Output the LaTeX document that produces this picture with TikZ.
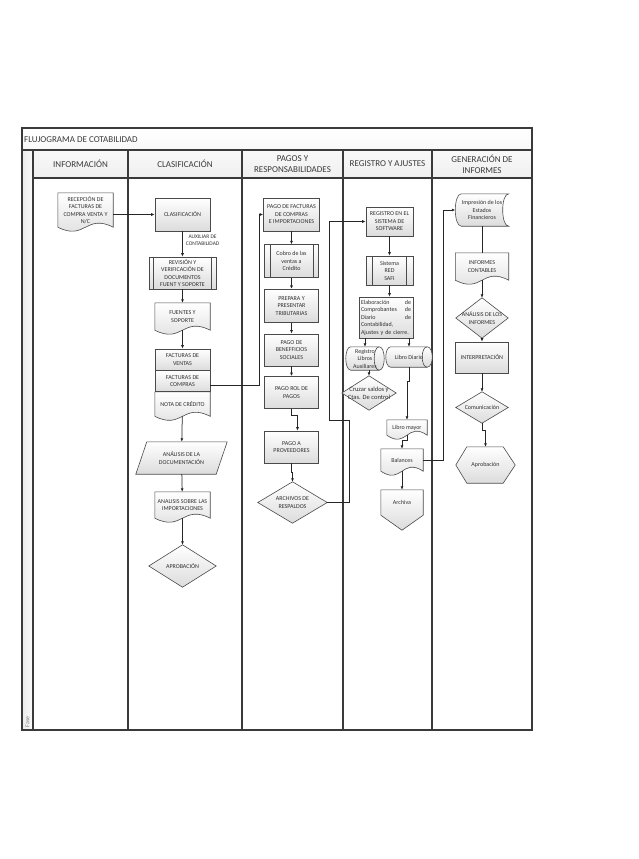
\documentclass[tikz,border=0pt]{standalone}
\usepackage{fontspec}
\setmainfont{Carlito}
\usetikzlibrary{positioning, arrows.meta}

\definecolor{laneline}{HTML}{3A3A3A}
\definecolor{shapeline}{HTML}{4A4A4A}
\definecolor{boxgray}{HTML}{DCDCDC}
\definecolor{txtgray}{HTML}{303030}

\pgfdeclarelayer{lanes}
\pgfdeclarelayer{shapes}
\pgfsetlayers{lanes,shapes,main}

\newcommand{\flowfont}{\fontsize{6}{7.5}\selectfont}
\newcommand{\headfont}{\fontsize{9}{11}\selectfont}

% outlines behind the node texts
\newcommand{\docshape}[1]{\begin{pgfonlayer}{shapes}
  \path[shapeout] (#1.north west) -- (#1.north east) -- (#1.south east)
    .. controls ([yshift=14pt]#1.south) and ([yshift=-14pt]#1.south) .. (#1.south west) -- cycle;
  \end{pgfonlayer}}
\newcommand{\diashape}[1]{\begin{pgfonlayer}{shapes}
  \path[shapeout] (#1.north) -- (#1.east) -- (#1.south) -- (#1.west) -- cycle;
  \end{pgfonlayer}}
\newcommand{\parashape}[1]{\begin{pgfonlayer}{shapes}
  \path[shapeout] ([xshift=11pt]#1.north west) -- (#1.north east) -- ([xshift=-11pt]#1.south east) -- (#1.south west) -- cycle;
  \end{pgfonlayer}}
\newcommand{\hexshape}[1]{\begin{pgfonlayer}{shapes}
  \path[shapeout] (#1.west) -- ([xshift=11pt]#1.north west) -- ([xshift=-12pt]#1.north east) -- (#1.east)
    -- ([xshift=-12pt]#1.south east) -- ([xshift=11pt]#1.south west) -- cycle;
  \end{pgfonlayer}}
\newcommand{\offpage}[1]{\begin{pgfonlayer}{shapes}
  \path[shapeout] (#1.north west) -- (#1.north east) -- (#1.south east) -- ([yshift=-15pt]#1.south) -- (#1.south west) -- cycle;
  \end{pgfonlayer}}
\newcommand{\drumshape}[1]{\begin{pgfonlayer}{shapes}
  \path[shapeout] ([xshift=5pt]#1.north west) -- ([xshift=-5pt]#1.north east)
    .. controls ([xshift=1.7pt]#1.north east) and ([xshift=1.7pt]#1.south east) .. ([xshift=-5pt]#1.south east)
    -- ([xshift=5pt]#1.south west)
    .. controls ([xshift=-1.7pt]#1.south west) and ([xshift=-1.7pt]#1.north west) .. cycle;
  \draw[draw=shapeline, line width=0.6pt] ([xshift=-5pt]#1.north east)
    .. controls ([xshift=-11.7pt]#1.north east) and ([xshift=-11.7pt]#1.south east) .. ([xshift=-5pt]#1.south east);
  \end{pgfonlayer}}
\newcommand{\storeshape}[1]{\begin{pgfonlayer}{shapes}
  \path[shapeout] ([xshift=6pt]#1.north west) -- (#1.north east)
    .. controls ([xshift=-8pt]#1.north east) and ([xshift=-8pt]#1.south east) .. (#1.south east)
    -- ([xshift=6pt]#1.south west)
    .. controls ([xshift=-2pt]#1.south west) and ([xshift=-2pt]#1.north west) .. cycle;
  \end{pgfonlayer}}
\newcommand{\predef}[2]{\draw[draw=shapeline, line width=0.6pt]
  ([xshift=#2]#1.north west) -- ([xshift=#2]#1.south west)
  ([xshift=-#2]#1.north east) -- ([xshift=-#2]#1.south east);}

\begin{document}
\begin{tikzpicture}[x=1pt, y=-1pt]

\tikzstyle{arrow} = [draw=black!85, line width=0.75pt, -{Latex[length=3.5pt,width=3pt]}]
\tikzstyle{conn} = [draw=black!85, line width=0.75pt]
\tikzset{lane/.style = {draw=laneline, line width=1.3pt}, }
\tikzset{head/.style = {font=\headfont, text=laneline, align=center, inner sep=1pt}, }
\tikzset{box/.style = {rectangle, draw=shapeline, line width=0.6pt, top color=white, bottom color=boxgray, text=txtgray, font=\flowfont, align=center, inner sep=1pt}, }
\tikzset{txtnode/.style = {rectangle, text=txtgray, font=\flowfont, align=center, inner sep=1pt}, }
\tikzset{shapeout/.style = {draw=shapeline, line width=0.6pt, top color=white, bottom color=boxgray}, }
\tikzset{lbl/.style = {font=\fontsize{5.5}{6.5}\selectfont, text=txtgray, align=center, inner sep=1pt}, }

\useasboundingbox (0,0) rectangle (638,859);

\begin{pgfonlayer}{lanes}
\path[top color=white, bottom color=gray!12] (22,128) rectangle (532,178);
\path[left color=gray!16, right color=gray!4] (22,150) rectangle (33,730);
\draw[lane] (22,128) rectangle (532,730);
\draw[lane] (22,150) -- (532,150);
\draw[lane] (33,178) -- (532,178);
\foreach \x in {33,128,242,343,432}
  \draw[lane] (\x,150) -- (\x,730);
\end{pgfonlayer}

\node[head, anchor=west] (titulo) at (23,139.5) {FLUJOGRAMA DE COTABILIDAD};
\foreach \xa/\xb/\nm/\txt in {33/128/hinfo/{INFORMACIÓN}, 128/242/hclas/{CLASIFICACIÓN},
  242/343/hpagos/{PAGOS Y\\RESPONSABILIDADES}, 343/432/hreg/{REGISTRO Y AJUSTES},
  432/532/hgen/{GENERACIÓN DE\\INFORMES}}
  \node[head] (\nm) at ({(\xa+\xb)/2},164) {\txt};
\node[rotate=90, font=\fontsize{6}{7}\selectfont, text=gray] (fase) at (27.5,722) {Fase};

% informacion y clasificacion
\node[txtnode, minimum width=55, minimum height=34] (recep) at (85.5,210) {RECEPCIÓN DE\\FACTURAS DE\\COMPRA VENTA Y\\N/C};
\docshape{recep}
\node[box, minimum width=55, minimum height=33] (clasif) at (182.5,214.5) {CLASIFICACIÓN};
\node[box, minimum width=67, minimum height=32] (revision) at (182.5,273) {REVISIÓN Y\\VERIFICACIÓN DE\\DOCUMENTOS\\FUENT Y SOPORTE};
\predef{revision}{5pt}
\node[txtnode, minimum width=55, minimum height=27] (fuentes) at (182.5,316.5) {FUENTES Y\\SOPORTE};
\docshape{fuentes}
\node[box, minimum width=55, minimum height=21] (ventas) at (182.5,359.5) {FACTURAS DE\\VENTAS};
\node[box, minimum width=55, minimum height=21, below=0pt of ventas] (compras) {FACTURAS DE\\COMPRAS};
\node[txtnode, minimum width=55, minimum height=24, below=0pt of compras] (nota) {NOTA DE CRÉDITO};
\docshape{nota}
\node[txtnode, minimum width=91, minimum height=32] (analisis) at (181.5,458) {ANÁLISIS DE LA\\DOCUMENTACIÓN};
\parashape{analisis}
\node[txtnode, minimum width=55, minimum height=26] (impor) at (182.5,505) {ANALISIS SOBRE LAS\\IMPORTACIONES};
\docshape{impor}
\node[txtnode, minimum width=67, minimum height=42] (aprob1) at (182.5,566) {APROBACIÓN};
\diashape{aprob1}

% pagos
\node[box, minimum width=56, minimum height=33] (pagofac) at (291.5,214.5) {PAGO DE FACTURAS\\DE COMPRAS\\E IMPORTACIONES};
\node[box, minimum width=54, minimum height=33, below=13pt of pagofac] (cobro) {Cobro de las\\ventas a\\Crédito};
\predef{cobro}{6pt}
\node[box, minimum width=54, minimum height=33, below=11pt of cobro] (prepara) {PREPARA Y\\PRESENTAR\\TRIBUTARIAS};
\node[box, minimum width=54, minimum height=32, below=11pt of prepara] (benef) {PAGO DE\\BENEFFICIOS\\SOCIALES};
\node[box, minimum width=54, minimum height=32, below=10pt of benef] (rol) {PAGO ROL DE\\PAGOS};
\node[box, minimum width=54, minimum height=32, below=22pt of rol] (prov) {PAGO A\\PROVEEDORES};
\node[txtnode, minimum width=69, minimum height=41] (archivos) at (292.5,502.5) {ARCHIVOS DE\\RESPALDOS};
\diashape{archivos}

% registro
\node[box, minimum width=47, minimum height=29] (registro) at (389.5,221.5) {REGISTRO EN EL\\SISTEMA DE\\SOFTWARE};
\node[box, minimum width=47, minimum height=29] (sistema) at (389.5,270.5) {Sistema\\RED\\SAFI};
\predef{sistema}{7pt}
\node[box, align=left, text width=50, minimum width=54, minimum height=41] (elabora) at (386,317.5)
  {Elaboración\hfill de\\Comprobantes\hfill de\\Diario\hfill de\\Contabilidad,\\Ajustes y de cierre.};
\node[txtnode, minimum width=38, minimum height=23] (auxil) at (365,358.5) {Registro\\Libros\\Auxiliares};
\drumshape{auxil}
\node[txtnode, minimum width=46, minimum height=20] (diario) at (409,357) {Libro Diario};
\drumshape{diario}
\node[txtnode, font=\fontsize{6.5}{8}\selectfont, minimum width=54, minimum height=34] (cruzar) at (369,393) {Cruzar saldos y\\Ctas. De control};
\diashape{cruzar}
\node[txtnode, minimum width=40, minimum height=15] (mayor) at (407,427.5) {Libro mayor};
\docshape{mayor}
\node[txtnode, minimum width=42, minimum height=22] (balances) at (402,460) {Balances};
\docshape{balances}
\node[txtnode, minimum width=42, minimum height=25] (archiva) at (402,502.5) {Archiva};
\offpage{archiva}

% generacion de informes
\node[txtnode, minimum width=53, minimum height=32] (impresion) at (482,210) {Impresión de los\\Estados\\Financieros};
\storeshape{impresion}
\node[txtnode, minimum width=53, minimum height=27] (informes) at (482,266.5) {INFORMES\\CONTABLES};
\docshape{informes}
\node[txtnode, minimum width=52, minimum height=40] (analinf) at (482,318) {ANÁLISIS DE LOS\\INFORMES};
\diashape{analinf}
\node[box, minimum width=53, minimum height=31] (interp) at (482,357.5) {INTERPRETACIÓN};
\node[txtnode, minimum width=52, minimum height=31] (comun) at (482,407.5) {Comunicación};
\diashape{comun}
\node[txtnode, minimum width=59, minimum height=36] (aprob2) at (485.5,465) {Aprobación};
\hexshape{aprob2}

\draw[arrow] (clasif.west -| recep.east) -- (clasif.west);
\draw[arrow] (clasif) -- node[lbl, pos=0.35, right=2pt] (auxlbl) {AUXILIAR DE\\CONTABILIDAD} (revision);
\draw[arrow] (revision) -- (fuentes);
\draw[arrow] (fuentes) -- (ventas);
\draw[arrow] (nota) -- (analisis);
\draw[arrow] (analisis) -- (impor);
\draw[arrow] (impor) -- (aprob1);
\draw[arrow] ([yshift=-4pt]compras.east) -| ([xshift=-4pt]pagofac.west) -- (pagofac.west);

\draw[arrow] (pagofac) -- (cobro);
\draw[arrow] (cobro) -- (prepara);
\draw[arrow] (prepara) -- (benef);
\draw[arrow] (benef) -- (rol);
\draw[arrow] (rol.south) -- ++(0,7) -| ([xshift=6pt]prov.north);
\draw[arrow] (prov.south) -- ++(0,9) -| (archivos.north);
\draw[arrow] (archivos.east) -- ++(22,0) -- ++(0,-82.5) -| ([xshift=-36pt]registro.west) -- (registro.west);

\draw[arrow] (registro) -- (sistema);
\draw[arrow] (sistema) -- (elabora.north -| sistema);
\draw[arrow] (elabora.south -| auxil) -- (auxil.north);
\draw[arrow] (elabora.south -| diario) -- (diario.north);
\draw[arrow] (auxil.south -| cruzar) -- (cruzar.north);
\draw[arrow] (diario.south) -- ++(0,14) -| (mayor.north);
\draw[arrow] (mayor.south) -- ++(0,5) -| (balances.north);
\draw[arrow] (balances) -- (archiva);
\draw[arrow] (balances.east) -- ++(20,0) |- (impresion.west);

\draw[conn] (impresion) -- (informes);
\draw[arrow] (informes) -- (analinf);
\draw[arrow] (analinf) -- (interp);
\draw[arrow] (interp) -- (comun);
\draw[arrow] (comun.south) -- ++(0,7) -| (aprob2.north);

\end{tikzpicture}
\end{document}
